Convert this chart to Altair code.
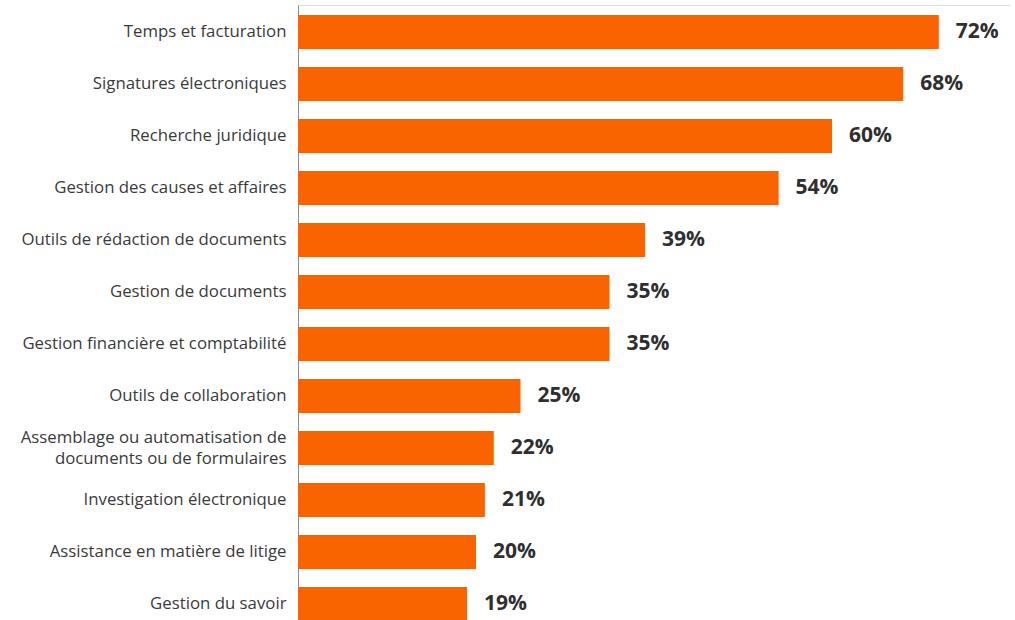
import altair as alt
import pandas as pd

categories = [
    "Temps et facturation",
    "Signatures électroniques",
    "Recherche juridique",
    "Gestion des causes et affaires",
    "Outils de rédaction de documents",
    "Gestion de documents",
    "Gestion financière et comptabilité",
    "Outils de collaboration",
    "Assemblage ou automatisation de|documents ou de formulaires",
    "Investigation électronique",
    "Assistance en matière de litige",
    "Gestion du savoir",
]
values = [72, 68, 60, 54, 39, 35, 35, 25, 22, 21, 20, 19]

df = pd.DataFrame({"cat": categories, "val": values})
df["lab"] = df["val"].astype(str) + "%"

FONT = "Open Sans"

y = alt.Y(
    "cat:N",
    sort=categories,
    scale=alt.Scale(paddingInner=0.346, paddingOuter=0.19),
    axis=alt.Axis(
        title=None,
        ticks=False,
        domain=True,
        domainColor="#8a8a8a",
        domainWidth=1,
        labelPadding=12,
        labelFontSize=16.8,
        labelFont=FONT,
        labelColor="#3a3a3a",
        labelLimit=400,
        labelLineHeight=21,
        labelExpr="split(datum.label, '|')",
        labelOffset={"condition": {"test": "indexof(datum.value, '|') >= 0", "value": -10.5}, "value": 0},
    ),
)
x = alt.X("val:Q", scale=alt.Scale(domain=[0, 80]), axis=None)

bars = alt.Chart(df).mark_bar(color="#FA6400").encode(x=x, y=y)
text = alt.Chart(df).mark_text(
    align="left", baseline="middle", dx=17, fontSize=21, fontWeight="bold",
    font=FONT, color="#2f2f2f"
).encode(x=x, y=alt.Y("cat:N", sort=categories), text="lab:N")

chart = (
    alt.layer(bars, text)
    .properties(width=712, height=626, padding={"left": 298, "top": 5, "right": 0, "bottom": 0},
                autosize=alt.AutoSizeParams(type="none"))
    .configure_view(stroke=None)
    .configure(background="white")
)

chart.save("out.html", embed_options={"renderer": "svg", "actions": False})
